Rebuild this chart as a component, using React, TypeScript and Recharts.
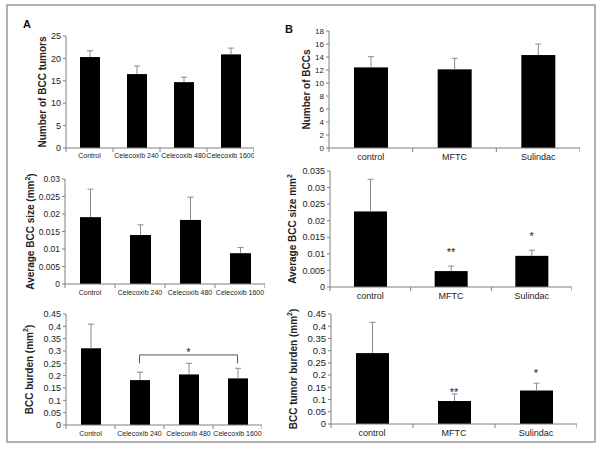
import React from "react";
import { BarChart, Bar, XAxis, YAxis, ReferenceLine, ReferenceDot } from "recharts";

// panel A: celecoxib doses
const groupsA = ["Control", "Celecoxib 240", "Celecoxib 480", "Celecoxib 1600"];
const tumorsA = [20.3, 16.5, 14.7, 20.9];
const tumorsAErr = [21.7, 18.3, 15.8, 22.3];
const sizeA = [0.0191, 0.014, 0.0183, 0.0088];
const sizeAErr = [0.0271, 0.0169, 0.0248, 0.0104];
const burdenA = [0.311, 0.182, 0.205, 0.189];
const burdenAErr = [0.409, 0.214, 0.25, 0.23];

// panel B: MFTC / sulindac
const groupsB = ["control", "MFTC", "Sulindac"];
const countB = [12.4, 12.1, 14.3];
const countBErr = [14.05, 13.8, 16.0];
const sizeB = [0.0228, 0.0048, 0.0094];
const sizeBErr = [0.0325, 0.0063, 0.0111];
const burdenB = [0.29, 0.094, 0.137];
const burdenBErr = [0.416, 0.123, 0.167];

// significance marks
const sizeBStars = ["", "**", "*"];
const sizeBStarY = [0, 0.0113, 0.0159];
const burdenBStars = ["", "**", "*"];
const burdenBStarY = [0, 0.14, 0.215];
const bracketA = { from: "Celecoxib 240", to: "Celecoxib 1600", mid: "Celecoxib 480", y: 0.284, drop: 0.25, starY: 0.304 };

// tick labels
const ticksTumorsA = [0, 5, 10, 15, 20, 25];
const ticksSizeA = [0, 0.005, 0.01, 0.015, 0.02, 0.025, 0.03];
const ticksBurden = [0, 0.05, 0.1, 0.15, 0.2, 0.25, 0.3, 0.35, 0.4, 0.45];
const ticksCountB = [0, 2, 4, 6, 8, 10, 12, 14, 16, 18];
const ticksSizeB = [0, 0.005, 0.01, 0.015, 0.02, 0.025, 0.03, 0.035];

const AXIS = "#808080";
const ERR = "#8a8a8a";
const TEXT = "#222";
const XH = 18;

const ErrShape = (props: any) => {
  const { x, y, width, height, payload } = props;
  const k = payload.value ? height / payload.value : 0;
  const ey = y + height - payload.err * k;
  const cx = x + width / 2;
  return (
    <g>
      <rect x={x} y={y} width={width} height={height} fill="#000" />
      <line x1={cx} x2={cx} y1={y} y2={ey} stroke={ERR} strokeWidth={1} />
      <line x1={cx - 3} x2={cx + 3} y1={ey} y2={ey} stroke={ERR} strokeWidth={1} />
    </g>
  );
};

const CatTick = (props: any) => {
  const { x, y, payload, index, n, bw, fontSize, dy } = props;
  const half = bw / 2;
  return (
    <g>
      <line x1={x - half} x2={x - half} y1={y} y2={y + 4} stroke={AXIS} />
      {index === n - 1 && <line x1={x + half} x2={x + half} y1={y} y2={y + 4} stroke={AXIS} />}
      <text x={x} y={y + dy} textAnchor="middle" fontSize={fontSize} fill={TEXT}>
        {payload.value}
      </text>
    </g>
  );
};

function yLabel(text: string, sup: boolean, tail: string, dx: number) {
  return {
    content: ({ viewBox }: any) => {
      const cx = viewBox.x + dx;
      const cy = viewBox.y + viewBox.height / 2;
      return (
        <text
          x={cx}
          y={cy}
          transform={`rotate(-90 ${cx} ${cy})`}
          textAnchor="middle"
          dominantBaseline="central"
          fontSize={10}
          fontWeight="bold"
          fill={TEXT}
        >
          {text}
          {sup && (
            <tspan dy={-4} fontSize={7}>
              2
            </tspan>
          )}
          {sup && <tspan dy={4}>{tail}</tspan>}
        </text>
      );
    },
  };
}

const starShape = (mark: string) => (p: any) => (
  <text x={p.cx} y={p.cy + 6} textAnchor="middle" fontSize={11} fill={TEXT}>
    {mark}
  </text>
);

interface PanelProps {
  cats: string[];
  values: number[];
  errs: number[];
  ticks: number[];
  label: any;
  left: number;
  top: number;
  width: number;
  height: number;
  axisW: number;
  barSize: number;
  xFont: number;
  yFont: number;
  xDy: number;
  extras?: React.ReactNode[];
}

function Panel({ cats, values, errs, ticks, label, left, top, width, height, axisW, barSize, xFont, yFont, xDy, extras }: PanelProps) {
  const data = cats.map((c, i) => ({ name: c, value: values[i], err: errs[i] }));
  const bw = (width - axisW) / cats.length;
  return (
    <div style={{ position: "absolute", left, top }}>
      <BarChart width={width} height={height} data={data} margin={{ top: 6, right: 0, left: 0, bottom: 0 }}>
        <XAxis
          dataKey="name"
          interval={0}
          height={XH}
          tickSize={0}
          tickMargin={0}
          tickLine={false}
          axisLine={{ stroke: AXIS }}
          tick={<CatTick n={cats.length} bw={bw} fontSize={xFont} dy={xDy} />}
        />
        <YAxis
          type="number"
          domain={[0, ticks[ticks.length - 1]]}
          ticks={ticks}
          interval={0}
          width={axisW}
          tickSize={3}
          tickMargin={2}
          tick={{ fontSize: yFont, fill: TEXT }}
          tickLine={{ stroke: AXIS }}
          axisLine={{ stroke: AXIS }}
          label={label}
        />
        <Bar dataKey="value" barSize={barSize} fill="#000" shape={ErrShape} isAnimationActive={false} />
        {extras}
      </BarChart>
    </div>
  );
}

const starDots = (cats: string[], marks: string[], ys: number[]) =>
  cats
    .map((c, i) =>
      marks[i] ? (
        <ReferenceDot key={c} x={c} y={ys[i]} r={0} shape={starShape(marks[i])} />
      ) : null
    )
    .filter(Boolean) as React.ReactNode[];

const bracket = [
  <ReferenceLine
    key="h"
    segment={[
      { x: bracketA.from, y: bracketA.y },
      { x: bracketA.to, y: bracketA.y },
    ]}
    stroke="#555"
  />,
  <ReferenceLine
    key="l"
    segment={[
      { x: bracketA.from, y: bracketA.y },
      { x: bracketA.from, y: bracketA.drop },
    ]}
    stroke="#555"
  />,
  <ReferenceLine
    key="r"
    segment={[
      { x: bracketA.to, y: bracketA.y },
      { x: bracketA.to, y: bracketA.drop },
    ]}
    stroke="#555"
  />,
  <ReferenceDot key="s" x={bracketA.mid} y={bracketA.starY} r={0} shape={starShape("*")} />,
];

export default function App() {
  return (
    <div
      style={{
        position: "absolute",
        left: 0,
        top: 0,
        width: 600,
        height: 454,
        background: "#fff",
        fontFamily: "'Liberation Sans', Arial, sans-serif",
      }}
    >
      <svg width={600} height={454} style={{ position: "absolute", left: 0, top: 0 }}>
        <rect x={7} y={5} width={588} height={437} fill="none" stroke="#999" strokeWidth={1.5} />
        <text x={23} y={28} fontSize={11} fontWeight="bold" fill="#111">A</text>
        <text x={285} y={33} fontSize={11} fontWeight="bold" fill="#111">B</text>
      </svg>

      <Panel cats={groupsA} values={tumorsA} errs={tumorsAErr} ticks={ticksTumorsA}
        label={yLabel("Number of BCC tumors", false, "", 30.5)}
        left={12} top={30} width={242} height={136} axisW={54} barSize={20} xFont={7} yFont={9} xDy={9.5} />
      <Panel cats={groupsA} values={sizeA} errs={sizeAErr} ticks={ticksSizeA}
        label={yLabel("Average BCC size (mm", true, ")", 18.5)}
        left={12} top={173} width={253} height={129} axisW={53} barSize={21} xFont={7} yFont={8.5} xDy={11} />
      <Panel cats={groupsA} values={burdenA} errs={burdenAErr} ticks={ticksBurden}
        label={yLabel("BCC burden (mm", true, ")", 17)}
        left={12} top={308} width={250} height={135} axisW={54} barSize={20} xFont={7} yFont={9} xDy={11}
        extras={bracket} />

      <Panel cats={groupsB} values={countB} errs={countBErr} ticks={ticksCountB}
        label={yLabel("Number of BCCs", false, "", 22)}
        left={284} top={25} width={296} height={141} axisW={45} barSize={34} xFont={9} yFont={8} xDy={12} />
      <Panel cats={groupsB} values={sizeB} errs={sizeBErr} ticks={ticksSizeB}
        label={yLabel("Average BCC size mm", true, "", 8.5)}
        left={284} top={165} width={288} height={140} axisW={46} barSize={33} xFont={9} yFont={9} xDy={12}
        extras={starDots(groupsB, sizeBStars, sizeBStarY)} />
      <Panel cats={groupsB} values={burdenB} errs={burdenBErr} ticks={ticksBurden}
        label={yLabel("BCC tumor burden (mm", true, ")", 9)}
        left={284} top={308} width={293} height={134} axisW={47} barSize={33} xFont={9} yFont={9.5} xDy={12}
        extras={starDots(groupsB, burdenBStars, burdenBStarY)} />
    </div>
  );
}
